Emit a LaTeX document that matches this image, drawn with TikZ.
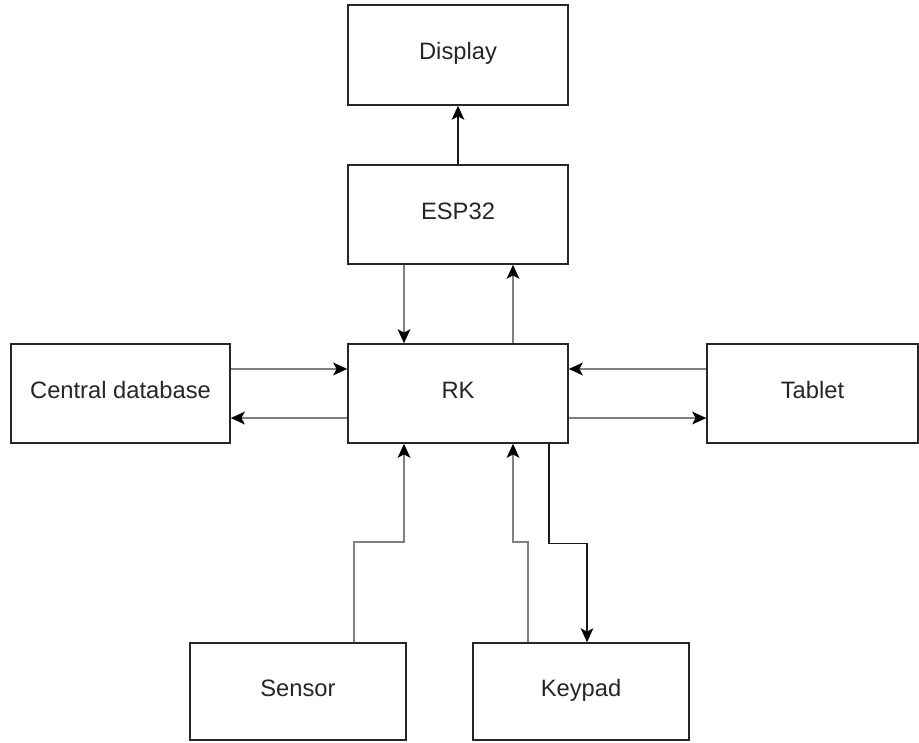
\documentclass[tikz,border=0pt]{standalone}
\usepackage{fontspec}
\setmainfont{Liberation Sans}
\usetikzlibrary{arrows.meta}
\begin{document}
\begin{tikzpicture}[x=0.75pt,y=-0.75pt,
  box/.style={draw=black!85, line width=1.1pt, fill=white, inner sep=0pt,
    text height=0.74em, text depth=0pt,
    font=\fontsize{17.8pt}{21pt}\selectfont, text=black!85},
  tip/.style={-{Stealth[length=10.5pt,width=9.5pt,inset=2.5pt,black]}},
  blk/.style={tip, draw=black!90, line width=0.9pt},
  gry/.style={tip, draw=black!50, line width=1.5pt}]
\useasboundingbox (0,0) rectangle (919,742);
\node[box, minimum width=165pt, minimum height=75pt] (display) at (458,55) {Display};
\node[box, minimum width=165pt, minimum height=74.25pt] (esp) at (458,214.5) {ESP32};
\node[box, minimum width=165pt, minimum height=74.25pt] (rk) at (458,393.5) {RK};
\node[box, minimum width=164.25pt, minimum height=74.25pt] (central) at (120.5,393.5) {Central database};
\node[box, minimum width=158.25pt, minimum height=74.25pt] (tablet) at (812.5,393.5) {Tablet};
\node[box, minimum width=162pt, minimum height=72.75pt] (sensor) at (298,691.5) {Sensor};
\node[box, minimum width=162pt, minimum height=72.75pt] (keypad) at (581,691.5) {Keypad};
% ESP32 -> Display
\draw[blk] (esp.north) -- (display.south);
% ESP32 <-> RK
\draw[gry] ([xshift=-40.5pt]esp.south) -- ([xshift=-40.5pt]rk.north);
\draw[gry] ([xshift=41.25pt]rk.north) -- ([xshift=41.25pt]esp.south);
% Central database <-> RK
\draw[gry] ([yshift=18.4pt]central.east) -- ([yshift=18.4pt]rk.west);
\draw[gry] ([yshift=-18.4pt]rk.west) -- ([yshift=-18.4pt]central.east);
% Tablet <-> RK
\draw[gry] ([yshift=18.4pt]tablet.west) -- ([yshift=18.4pt]rk.east);
\draw[gry] ([yshift=-18.4pt]rk.east) -- ([yshift=-18.4pt]tablet.west);
% Sensor -> RK
\draw[gry] ([xshift=42pt]sensor.north) -- ++(0,-100) -| ([xshift=-40.5pt]rk.south);
% Keypad -> RK
\draw[gry] ([xshift=-39.75pt]keypad.north) -- ++(0,-100) -| ([xshift=41.25pt]rk.south);
% RK -> Keypad
\draw[blk] ([xshift=68.25pt]rk.south) -- ++(0,100) -| ([xshift=4.5pt]keypad.north);
\end{tikzpicture}
\end{document}
